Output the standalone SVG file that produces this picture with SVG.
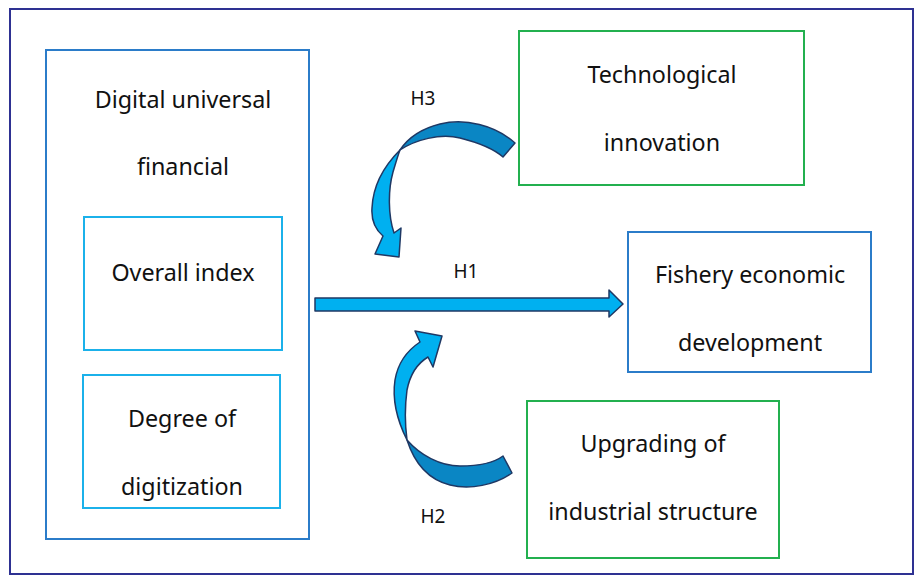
<svg xmlns="http://www.w3.org/2000/svg" width="922" height="583" viewBox="0 0 922 583">
<style>
.t{font-family:"Noto Sans","Liberation Sans",sans-serif;font-size:23.3px;fill:#111;text-anchor:middle}
.h{font-family:"Noto Sans","Liberation Sans",sans-serif;font-size:19px;fill:#111;text-anchor:middle}
.blue{fill:#fff;stroke:#2b7cc9;stroke-width:2}
.cyan{fill:#fff;stroke:#1bb1ea;stroke-width:2}
.green{fill:#fff;stroke:#23b04f;stroke-width:2}
.ar{stroke:#1f3864;stroke-width:1.5;stroke-linejoin:round}
.lt{fill:#00b0f0}
.dk{fill:#0a86c4}
</style>
<rect x="0" y="0" width="922" height="583" fill="#fff"/>
<rect x="10" y="9" width="903" height="565" fill="none" stroke="#2e3192" stroke-width="2"/>
<g id="digital-financial">
<rect class="blue" x="46" y="50" width="263" height="489"/>
<text class="t" x="183" y="108">Digital universal</text>
<text class="t" x="183" y="175">financial</text>
</g>
<g id="overall-index">
<rect class="cyan" x="84" y="217" width="198" height="133"/>
<text class="t" x="183" y="281">Overall index</text>
</g>
<g id="degree-digitization">
<rect class="cyan" x="83" y="375" width="197" height="133"/>
<text class="t" x="182" y="427">Degree of</text>
<text class="t" x="182" y="495">digitization</text>
</g>
<g id="technological-innovation">
<rect class="green" x="519" y="31" width="285" height="154"/>
<text class="t" x="662" y="83">Technological</text>
<text class="t" x="662" y="151">innovation</text>
</g>
<g id="fishery-development">
<rect class="blue" x="628" y="232" width="243" height="140"/>
<text class="t" x="750" y="283">Fishery economic</text>
<text class="t" x="750" y="351">development</text>
</g>
<g id="industrial-upgrading">
<rect class="green" x="527" y="401" width="252" height="157"/>
<text class="t" x="653" y="452">Upgrading of</text>
<text class="t" x="653" y="520">industrial structure</text>
</g>
<g id="connectors">
<path class="ar lt" d="M315,298 L609,298 L609,290 L623,304 L609,317 L609,311 L315,311 Z"/>
<path class="ar dk" d="M515,143 C495,125 465,118 440,124 C420,129 408,138 400,150 C415,140 440,133 460,138 C480,143 495,150 503,157 Z"/>
<path class="ar lt" d="M400,150 C385,165 373,185 372,208 C371,222 376,230 383,236 L375,254 L399,257 L401,228 L394,233 C388,215 388,190 393,172 C396,162 398,155 400,150 Z"/>
<path class="ar dk" d="M512,473 C495,485 470,490 450,485 C430,480 415,465 407,440 C420,455 440,466 460,466 C480,466 495,462 503,456 Z"/>
<path class="ar lt" d="M407,440 C397,420 392,400 395,380 C398,362 408,350 420,342 L415,331 L442,336 L433,367 L428,357 C418,363 410,375 407,390 C405,405 405,425 407,440 Z"/>
<text class="h" x="423" y="105">H3</text>
<text class="h" x="466" y="278">H1</text>
<text class="h" x="433" y="523">H2</text>
</g>
</svg>
